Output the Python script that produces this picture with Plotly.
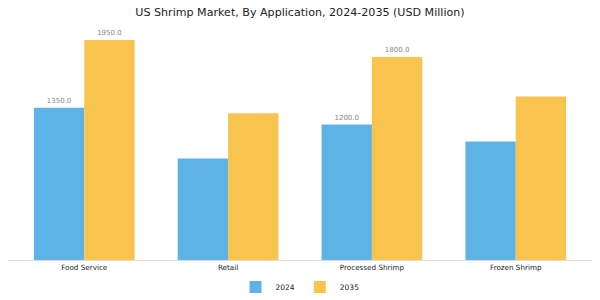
import plotly.graph_objects as go

categories = ["Food Service", "Retail", "Processed Shrimp", "Frozen Shrimp"]
values_2024 = [1350, 900, 1200, 1050]
values_2035 = [1950, 1300, 1800, 1450]
labels_2024 = ["1350.0", "", "1200.0", ""]
labels_2035 = ["1950.0", "", "1800.0", ""]

blue = "#5DB3E6"
orange = "#F9C44D"
font = "DejaVu Sans"

fig = go.Figure()
fig.add_trace(go.Bar(x=categories, y=values_2024, name="2024", marker_color=blue,
                     marker_line_width=0, text=labels_2024, textposition="outside",
                     textfont=dict(size=7, color="#888888", family=font), cliponaxis=False))
fig.add_trace(go.Bar(x=categories, y=values_2035, name="2035", marker_color=orange,
                     marker_line_width=0, text=labels_2035, textposition="outside",
                     textfont=dict(size=7, color="#888888", family=font), cliponaxis=False))

fig.update_layout(
    width=600, height=300,
    margin=dict(l=8, r=8, t=29, b=40, autoexpand=False),
    paper_bgcolor="white", plot_bgcolor="white",
    barmode="group", bargap=0.3, bargroupgap=0,
    font=dict(family=font, color="#222222"),
    title=dict(text="US Shrimp Market, By Application, 2024-2035 (USD Million)",
               x=0.5, xanchor="center", y=0.96, yanchor="middle",
               font=dict(size=11.1, family=font, color="#222222")),
    showlegend=True,
    legend=dict(orientation="h", x=0.5, xanchor="center", y=-0.117, yanchor="middle",
                font=dict(size=7.5, family=font), itemwidth=30),
    uniformtext=dict(minsize=6),
)
fig.update_xaxes(showline=True, linecolor="#dddddd", linewidth=1, ticks="",
                 tickfont=dict(size=7.2, family=font, color="#222222"),
                 range=[-0.53, 3.53], showgrid=False, automargin=False)
fig.update_yaxes(visible=False, range=[0, 2047.5], showgrid=False, automargin=False)

fig.write_html("out.html")
